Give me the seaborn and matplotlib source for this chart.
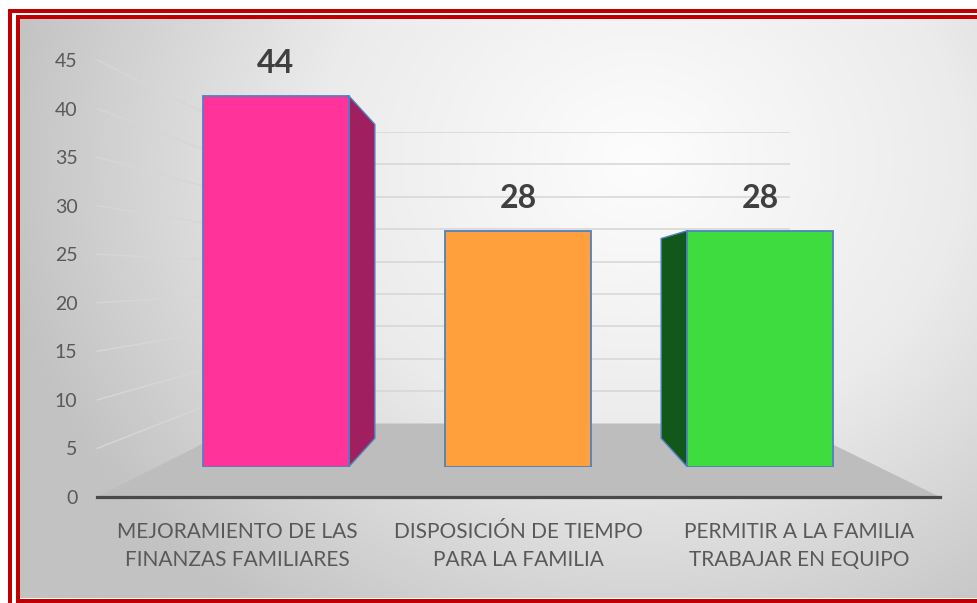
import numpy as np
import matplotlib
matplotlib.use("Agg")
import matplotlib.pyplot as plt
from matplotlib.colors import LinearSegmentedColormap
from matplotlib.patches import Polygon
from matplotlib.lines import Line2D
import seaborn as sns
import pandas as pd

# ---- data ----
categories = ["MEJORAMIENTO DE LAS\nFINANZAS FAMILIARES",
              "DISPOSICIÓN DE TIEMPO\nPARA LA FAMILIA",
              "PERMITIR A LA FAMILIA\nTRABAJAR EN EQUIPO"]
values = [44, 28, 28]
y_ticks = [0, 5, 10, 15, 20, 25, 30, 35, 40, 45]

# ---- styles ----
front_colors = ["#ff3399", "#ffa03c", "#3edc3e"]
side_colors = ["#a01f60", "#b86a1c", "#12581a"]
edge_color = "#4f81bd"
grid_color = "#d6d6d6"
text_color = "#595959"

sns.set_theme(style="white")
plt.rcParams['font.family'] = ['Lato', 'DejaVu Sans']

W, H = 978, 603
fig = plt.figure(figsize=(W / 100, H / 100), dpi=100)
fig.patch.set_facecolor("white")


def rect(left, top, right, bottom):
    """pixel box (from top-left) -> figure fraction [l, b, w, h]"""
    return [left / W, 1 - bottom / H, (right - left) / W, (bottom - top) / H]


# ---- background gradient ----
bg = fig.add_axes(rect(20, 19, 978, 598), zorder=-10)
gx, gy = np.meshgrid(np.linspace(20, 978, 400), np.linspace(19, 598, 300))
r = np.sqrt(((gx - 640) / 620) ** 2 + ((gy - 160) / 540) ** 2)
cmap = LinearSegmentedColormap.from_list("bg", ["#fdfdfd", "#ebebeb", "#c2c2c2"])
bg.imshow(np.clip(r, 0, 1.05), cmap=cmap, aspect="auto", extent=[0, 1, 0, 1],
          origin="upper", vmin=0, vmax=1.05)
bg.axis("off")

# ---- front plane (axis, ticks, category labels) ----
ax = fig.add_axes(rect(97, 60, 940, 497), zorder=1)
ax.set_facecolor("none")
ax.set_xlim(-0.5, 2.5)
ax.set_ylim(0, 45)
for s in ["top", "right", "left"]:
    ax.spines[s].set_visible(False)
ax.spines["bottom"].set_color("#4a4a4a")
ax.spines["bottom"].set_linewidth(2.3)
ax.set_yticks(y_ticks)
ax.set_yticklabels([str(t) for t in y_ticks])
ax.set_xticks(range(len(categories)))
ax.set_xticklabels(categories, linespacing=1.5)
ax.tick_params(axis="y", length=0, pad=14, labelsize=14, labelcolor=text_color)
ax.tick_params(axis="x", length=0, pad=18, labelsize=15, labelcolor=text_color)
ax.grid(False)

# ---- back wall ----
ax_wall = fig.add_axes(rect(243, 132, 790, 423.5), zorder=-3)
ax_wall.set_facecolor("none")
ax_wall.set_xlim(-0.5, 2.5)
ax_wall.set_ylim(0, 45)
for s in ax_wall.spines.values():
    s.set_visible(False)
ax_wall.set_yticks(y_ticks[1:])
ax_wall.set_xticks([])
ax_wall.tick_params(axis="y", length=0, labelleft=False)
ax_wall.grid(axis="y", color=grid_color, linewidth=1.1)

to_fig = fig.transFigure.inverted()

# side-wall gridlines connecting front plane ticks to wall ticks
for t in y_ticks[1:]:
    p1 = to_fig.transform(ax.transData.transform((-0.5, t)))
    p2 = to_fig.transform(ax_wall.transData.transform((-0.5, t)))
    fig.add_artist(Line2D([p1[0], p2[0]], [p1[1], p2[1]], color=grid_color,
                          linewidth=1.1, transform=fig.transFigure, zorder=-4))

# floor
floor_pts = [ax.transData.transform((-0.5, 0)), ax.transData.transform((2.5, 0)),
             ax_wall.transData.transform((2.5, 0)), ax_wall.transData.transform((-0.5, 0))]
floor_pts = [to_fig.transform(p) for p in floor_pts]
fig.add_artist(Polygon(floor_pts, closed=True, facecolor="#bdbdbd", edgecolor="none",
                       transform=fig.transFigure, zorder=-5))

# ---- bars ----
ax_bar = fig.add_axes(rect(155, 87.2, 881, 467), zorder=2)
ax_bar.set_facecolor("none")
df = pd.DataFrame({"cat": categories, "val": values})
sns.barplot(data=df, x="cat", y="val", hue="cat", palette=front_colors, width=0.6,
            saturation=1, edgecolor=edge_color, linewidth=1.3, legend=False, ax=ax_bar)
ax_bar.set_xlim(-0.5, 2.5)
ax_bar.set_ylim(0, 45)
ax_bar.axis("off")

vp = ax_bar.transData.transform((1, 22))
k = 0.845
inv_bar = ax_bar.transData.inverted()
for p in ax_bar.patches:
    if p.get_height() <= 0:
        continue
    x0, w, h = p.get_x(), p.get_width(), p.get_height()
    i = int(round(x0 + w / 2))
    left = ax_bar.transData.transform((x0, 0))[0]
    right = ax_bar.transData.transform((x0 + w, 0))[0]
    if right < vp[0]:
        ex = x0 + w
    elif left > vp[0]:
        ex = x0
    else:
        continue
    top_f = ax_bar.transData.transform((ex, h))
    bot_f = ax_bar.transData.transform((ex, 0))
    top_b = vp + k * (top_f - vp)
    bot_b = vp + k * (bot_f - vp)
    pts = inv_bar.transform(np.array([top_f, top_b, bot_b, bot_f]))
    ax_bar.add_patch(Polygon(pts, closed=True, facecolor=side_colors[i],
                             edgecolor=edge_color, linewidth=1.0, zorder=0.5))

for i, v in enumerate(values):
    ax_bar.annotate(f"{v}", (i, v), xytext=(0, 23), textcoords="offset points",
                    ha="center", va="center", fontsize=23, fontweight="bold",
                    color="#404040")

# ---- red double frame ----
red = "#c00000"
lw_pt = 4 * 72 / 100
def fline(xs, ys, lw=lw_pt):
    fig.add_artist(Line2D([x / W for x in xs], [1 - y / H for y in ys], color=red,
                          linewidth=lw, solid_capstyle="butt",
                          transform=fig.transFigure, zorder=20))

fline([10, 978], [10.8, 10.8])
fline([10, 10], [8.8, 603])
fline([18, 978], [17, 17])
fline([18, 18], [15, 603])
fline([16, 978], [600.5, 600.5], lw=5 * 72 / 100)

fig.savefig("out.png", dpi=100)
